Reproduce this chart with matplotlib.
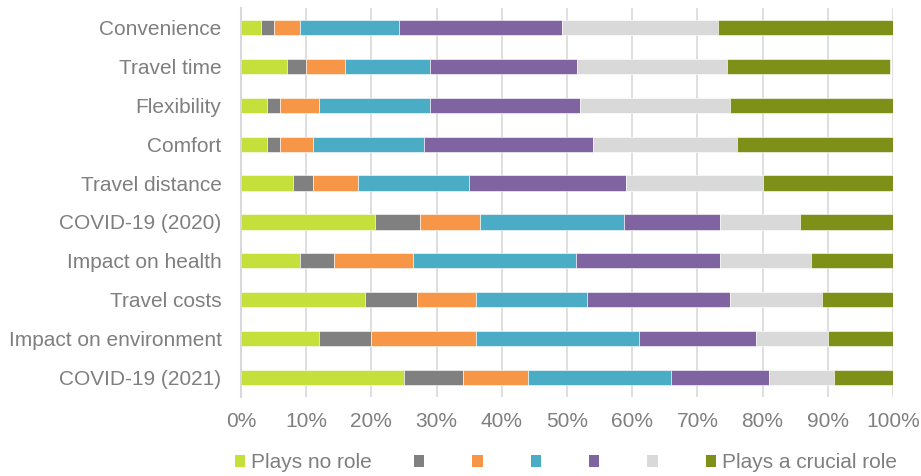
import matplotlib
matplotlib.use("Agg")
import matplotlib.pyplot as plt
import numpy as np
from matplotlib.patches import Patch

categories = ["Convenience", "Travel time", "Flexibility", "Comfort", "Travel distance",
              "COVID-19 (2020)", "Impact on health", "Travel costs",
              "Impact on environment", "COVID-19 (2021)"]
series_names = ["Plays no role", "", "", "", "", "", "Plays a crucial role"]

s1 = [3.0, 7.0, 4.0, 4.0, 8.0, 20.5, 9.0, 19.0, 12.0, 25.0]
s2 = [2.1, 3.0, 2.0, 2.0, 3.0, 7.0, 5.3, 8.0, 8.0, 9.0]
s3 = [4.0, 6.0, 6.0, 5.0, 7.0, 9.2, 12.1, 9.0, 16.0, 10.0]
s4 = [15.1, 13.0, 17.0, 17.0, 17.0, 22.0, 25.0, 17.0, 25.0, 22.0]
s5 = [25.0, 22.5, 23.0, 26.0, 24.0, 14.7, 22.0, 22.0, 18.0, 15.0]
s6 = [24.0, 23.0, 23.0, 22.0, 21.0, 12.3, 14.0, 14.1, 11.0, 10.0]
s7 = [26.8, 25.0, 25.0, 24.0, 20.0, 14.3, 12.6, 10.9, 10.0, 9.0]
series = [s1, s2, s3, s4, s5, s6, s7]

colors = ["#C5E03A", "#808080", "#F79646", "#4BACC6", "#8064A2", "#D9D9D9", "#7F9019"]
text_color = "#7F7F7F"
tick_labels = [f"{v}%" for v in range(0, 101, 10)]

plt.rcParams["font.family"] = ["Liberation Sans", "DejaVu Sans"]

fig = plt.figure(figsize=(9.21, 4.76), dpi=100)
ax = fig.add_axes([241 / 921, 1 - 397 / 476, (893 - 241) / 921, (397 - 8) / 476])

y = np.arange(len(categories))
left = np.zeros(len(categories))
for vals, col in zip(series, colors):
    v = np.array(vals)
    ax.barh(y, v, left=left, height=0.39, color=col, edgecolor="white",
            linewidth=0.4, zorder=3)
    left += v

ax.set_xlim(0, 100)
ax.set_ylim(len(categories) - 0.5, -0.5)
ax.set_yticks(y)
ax.set_yticklabels(categories)
ax.set_xticks(np.arange(0, 101, 10))
ax.set_xticklabels(tick_labels)
ax.tick_params(axis="y", length=0, pad=14, labelsize=15, labelcolor=text_color)
ax.tick_params(axis="x", length=0, pad=11, labelsize=15, labelcolor=text_color)
ax.grid(axis="x", color="#D9D9D9", linewidth=1.2, zorder=0)
for s in ["top", "right", "bottom"]:
    ax.spines[s].set_visible(False)
ax.spines["left"].set_color("#D9D9D9")
ax.spines["left"].set_linewidth(1.5)
ax.spines["left"].set_zorder(4)

handles = [Patch(facecolor=c, edgecolor="none") for c in colors]
fig.legend(handles, series_names, loc="center", bbox_to_anchor=(566 / 921, 1 - 463 / 476),
           ncol=7, frameon=False, fontsize=15, labelcolor=text_color,
           handlelength=0.5, handleheight=0.5, handletextpad=0.3, columnspacing=2.0)

fig.savefig("out.png", dpi=100)
